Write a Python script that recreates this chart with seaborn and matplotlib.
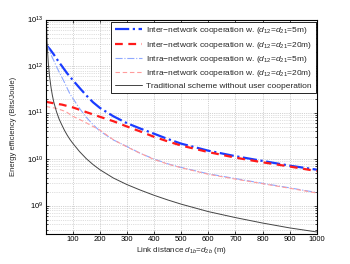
import matplotlib
matplotlib.use("Agg")
import matplotlib.pyplot as plt
import seaborn as sns
from matplotlib.ticker import LogLocator, NullFormatter, MultipleLocator

# link distance d_1b = d_2b (m)
dist = [1, 3, 5, 7, 10, 15, 20, 25, 30, 40, 50, 60, 70, 80, 90, 100, 125, 150, 175, 200,
        250, 300, 350, 400, 450, 500, 600, 700, 800, 900, 1000]

# energy efficiency (Bits/Joule)
inter_5m = [2.82e12, 2.75e12, 2.69e12, 2.63e12, 2.51e12, 2.34e12, 2.14e12, 1.95e12, 1.78e12, 1.45e12,
            1.2e12, 1.0e12, 8.3e11, 6.9e11, 5.9e11, 5.0e11, 3.4e11, 2.34e11, 1.66e11, 1.26e11,
            8.3e10, 5.9e10, 4.5e10, 3.5e10, 2.7e10, 2.14e10, 1.51e10, 1.15e10, 9.1e9, 7.2e9, 5.9e9]
inter_20m = [1.7e11, 1.7e11, 1.7e11, 1.68e11, 1.66e11, 1.64e11, 1.62e11, 1.6e11, 1.58e11, 1.55e11,
             1.51e11, 1.48e11, 1.43e11, 1.38e11, 1.33e11, 1.29e11, 1.15e11, 1.02e11, 9.1e10, 8.1e10,
             6.5e10, 5.0e10, 3.9e10, 3.0e10, 2.4e10, 1.95e10, 1.41e10, 1.07e10, 8.5e9, 6.9e9, 5.5e9]
intra_5m = [2.82e12, 2.75e12, 2.69e12, 2.57e12, 2.4e12, 2.09e12, 1.78e12, 1.51e12, 1.32e12, 9.8e11,
            7.4e11, 5.75e11, 4.4e11, 3.3e11, 2.5e11, 2.04e11, 1.23e11, 7.9e10, 5.5e10, 4.0e10,
            2.57e10, 1.86e10, 1.32e10, 1.0e10, 7.9e9, 6.6e9, 4.8e9, 3.8e9, 3.0e9, 2.4e9, 1.9e9]
intra_20m = [1.35e11, 1.35e11, 1.35e11, 1.33e11, 1.32e11, 1.3e11, 1.29e11, 1.27e11, 1.26e11, 1.23e11,
             1.17e11, 1.12e11, 1.07e11, 1.0e11, 9.1e10, 8.3e10, 7.1e10, 6.0e10, 5.0e10, 4.2e10,
             2.6e10, 1.82e10, 1.32e10, 9.8e9, 7.8e9, 6.5e9, 4.7e9, 3.7e9, 2.95e9, 2.35e9, 1.86e9]
traditional = [7.9e13, 1.0e13, 4.0e12, 2.24e12, 1.17e12, 5.75e11, 3.47e11, 2.34e11, 1.7e11, 1.05e11,
               7.2e10, 5.4e10, 4.1e10, 3.24e10, 2.63e10, 2.19e10, 1.45e10, 1.02e10, 7.6e9, 5.9e9,
               3.9e9, 2.82e9, 2.14e9, 1.66e9, 1.32e9, 1.07e9, 7.4e8, 5.5e8, 4.2e8, 3.3e8, 2.7e8]

labels = ["Inter\u2212network cooperation w. ($d_{12}$=$d_{21}$=5m)",
          "Inter\u2212network cooperation w. ($d_{12}$=$d_{21}$=20m)",
          "Intra\u2212network cooperation w. ($d_{12}$=$d_{21}$=5m)",
          "Intra\u2212network cooperation w. ($d_{12}$=$d_{21}$=20m)",
          "Traditional scheme without user cooperation"]

sns.set_style("ticks")
plt.rcParams["font.family"] = ["Liberation Sans", "DejaVu Sans"]
plt.rcParams["mathtext.fontset"] = "custom"
plt.rcParams["mathtext.rm"] = "Liberation Sans"
plt.rcParams["mathtext.it"] = "Liberation Sans:italic"
fs = 5.5

fig = plt.figure(figsize=(3.5, 2.64), dpi=100)
ax = fig.add_axes([0.131, 0.1155, 0.774, 0.8106])

sns.lineplot(x=dist, y=inter_5m, ax=ax, color="#1a3cff", linestyle="-.", lw=1.6, label=labels[0])
sns.lineplot(x=dist, y=inter_20m, ax=ax, color="#ff1a1a", linestyle=(0, (3.5, 2.5)), lw=1.6, label=labels[1])
sns.lineplot(x=dist, y=intra_5m, ax=ax, color="#8fa8ff", linestyle="-.", lw=0.8, label=labels[2])
sns.lineplot(x=dist, y=intra_20m, ax=ax, color="#ff9c9c", linestyle=(0, (4, 2.5)), lw=0.8, label=labels[3])
sns.lineplot(x=dist, y=traditional, ax=ax, color="#444444", linestyle="-", lw=0.7, label=labels[4])

ax.set_yscale("log")
ax.set_xlim(1, 1000)
ax.set_ylim(2.5e8, 1e13)
ax.xaxis.set_major_locator(MultipleLocator(100))
ax.yaxis.set_major_locator(LogLocator(base=10, numticks=10))
ax.yaxis.set_minor_locator(LogLocator(base=10, subs=range(2, 10), numticks=20))
ax.yaxis.set_minor_formatter(NullFormatter())

ax.grid(which="major", color="#a8a8a8", linestyle=":", lw=0.5)
ax.grid(which="minor", axis="y", color="#c0c0c0", linestyle=":", lw=0.5)
ax.tick_params(which="both", direction="in", top=True, right=True, labelsize=fs,
               width=0.5, colors="black", pad=2)
ax.tick_params(which="major", length=2.5)
ax.tick_params(which="minor", length=1.5)
for s in ax.spines.values():
    s.set_linewidth(0.8)
    s.set_color("black")

ax.set_xlabel("Link distance $d_{1b}$=$d_{2b}$ (m)", fontsize=5.8, labelpad=1)
ax.set_ylabel("Energy efficiency (Bits/Joule)", fontsize=fs, labelpad=7)

leg = ax.legend(loc="upper right", bbox_to_anchor=(0.996, 0.988), borderaxespad=0,
                fontsize=6, frameon=True, fancybox=False, handlelength=3.3,
                labelspacing=0.38, borderpad=0.4, handletextpad=0.5)
leg.get_frame().set_edgecolor("black")
leg.get_frame().set_linewidth(0.6)
leg.get_frame().set_alpha(1)

fig.savefig("out.png", dpi=100)
